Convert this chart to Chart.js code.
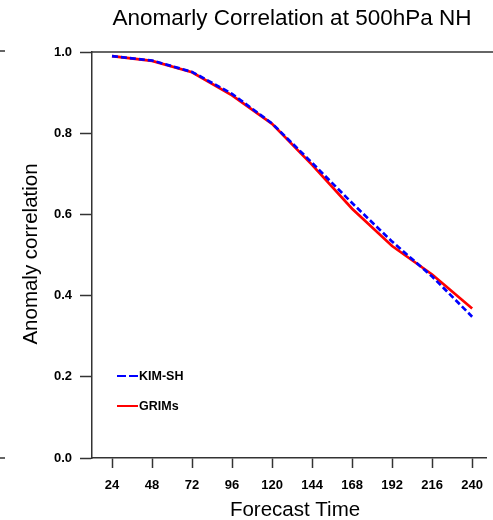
<!DOCTYPE html>
<html>
<head>
<meta charset="utf-8">
<script src="https://cdn.jsdelivr.net/npm/chart.js@4.4.1/dist/chart.umd.min.js"></script>
<style>
html,body{margin:0;padding:0;background:#fff;overflow:hidden;}
#wrap{width:493px;height:520px;position:relative;}
</style>
</head>
<body>
<div id="wrap"><canvas id="c" width="493" height="520"></canvas></div>
<script>
const forecastHours = [24, 48, 72, 96, 120, 144, 168, 192, 216, 240];
const kimSH = [0.990, 0.979, 0.951, 0.897, 0.824, 0.727, 0.628, 0.533, 0.447, 0.348];
const grims = [0.990, 0.978, 0.950, 0.893, 0.823, 0.722, 0.614, 0.522, 0.452, 0.368];
const yTicks = [0.0, 0.2, 0.4, 0.6, 0.8, 1.0];
const titleText = 'Anomarly Correlation at 500hPa NH';
const xTitle = 'Forecast Time';
const yTitle = 'Anomaly correlation';

const FONT = '"Liberation Sans", Arial, Helvetica, sans-serif';
const AXIS = '#333333';

const decor = {
  id: 'decor',
  afterDraw(chart) {
    const ctx = chart.ctx;
    const a = chart.chartArea;
    const ys = chart.scales.y;
    ctx.save();
    // top frame line
    ctx.strokeStyle = AXIS;
    ctx.lineWidth = 1.5;
    ctx.beginPath();
    ctx.moveTo(a.left, ys.getPixelForValue(1));
    ctx.lineTo(chart.width, ys.getPixelForValue(1));
    ctx.stroke();
    // neighbouring panel tick stubs at the far left
    ctx.beginPath();
    ctx.moveTo(0, ys.getPixelForValue(1) - 1); ctx.lineTo(5, ys.getPixelForValue(1) - 1);
    ctx.moveTo(0, ys.getPixelForValue(0)); ctx.lineTo(5, ys.getPixelForValue(0));
    ctx.stroke();
    // title
    ctx.fillStyle = '#000';
    ctx.textAlign = 'center';
    ctx.textBaseline = 'middle';
    ctx.font = '22.5px ' + FONT;
    ctx.fillText(titleText, 292, 19);
    // x title
    ctx.font = '20.5px ' + FONT;
    ctx.fillText(xTitle, 295, 510);
    // y title
    ctx.save();
    ctx.translate(31, 254);
    ctx.rotate(-Math.PI / 2);
    ctx.fillText(yTitle, 0, 0);
    ctx.restore();
    // legend
    ctx.font = 'bold 12.5px ' + FONT;
    ctx.textAlign = 'left';
    const items = chart.data.datasets;
    const lx = a.left + 25, ly0 = 376, gap = 30;
    items.forEach((ds, i) => {
      const y = ly0 + i * gap;
      ctx.strokeStyle = ds.borderColor;
      ctx.lineWidth = 2;
      ctx.setLineDash(ds.borderDash && ds.borderDash.length ? [9, 3] : []);
      ctx.beginPath();
      ctx.moveTo(lx, y); ctx.lineTo(lx + 21, y);
      ctx.stroke();
      ctx.setLineDash([]);
      ctx.fillStyle = '#000';
      ctx.fillText(ds.label, lx + 22, y + 1);
    });
    ctx.restore();
  }
};

new Chart(document.getElementById('c'), {
  type: 'line',
  data: {
    datasets: [
      {
        label: 'KIM-SH',
        data: forecastHours.map((h, i) => ({x: h, y: kimSH[i]})),
        borderColor: '#0000ff',
        borderWidth: 2.7,
        borderDash: [6, 3],
        pointRadius: 0,
        tension: 0,
        fill: false,
        order: 0
      },
      {
        label: 'GRIMs',
        data: forecastHours.map((h, i) => ({x: h, y: grims[i]})),
        borderColor: '#ff0000',
        borderWidth: 2.7,
        pointRadius: 0,
        tension: 0,
        fill: false,
        order: 1
      }
    ]
  },
  options: {
    responsive: false,
    animation: false,
    events: [],
    layout: {padding: {top: 52, right: 0, bottom: 0, left: 0}},
    plugins: {legend: {display: false}, title: {display: false}, tooltip: {enabled: false}},
    scales: {
      x: {
        type: 'linear',
        min: 12,
        max: 248.7,
        afterBuildTicks(s) { s.ticks = forecastHours.map(v => ({value: v})); },
        afterFit(s) { s.height = 62; },
        grid: {drawOnChartArea: false, drawTicks: true, tickLength: 10, tickColor: AXIS, tickWidth: 1.5},
        border: {display: true, color: AXIS, width: 1.5},
        ticks: {
          padding: 10,
          color: '#000',
          font: {family: FONT, size: 13, weight: 'bold'},
          maxRotation: 0,
          autoSkip: false,
          callback: v => String(v)
        }
      },
      y: {
        min: 0,
        max: 1,
        afterBuildTicks(s) { s.ticks = yTicks.map(v => ({value: v})); },
        afterFit(s) { s.width = 92; },
        grid: {drawOnChartArea: false, drawTicks: true, tickLength: 12, tickColor: AXIS, tickWidth: 1.5},
        border: {display: true, color: AXIS, width: 1.5},
        ticks: {
          padding: 8,
          color: '#000',
          font: {family: FONT, size: 13, weight: 'bold'},
          callback: v => v.toFixed(1)
        }
      }
    }
  },
  plugins: [decor]
});
</script>
</body>
</html>
